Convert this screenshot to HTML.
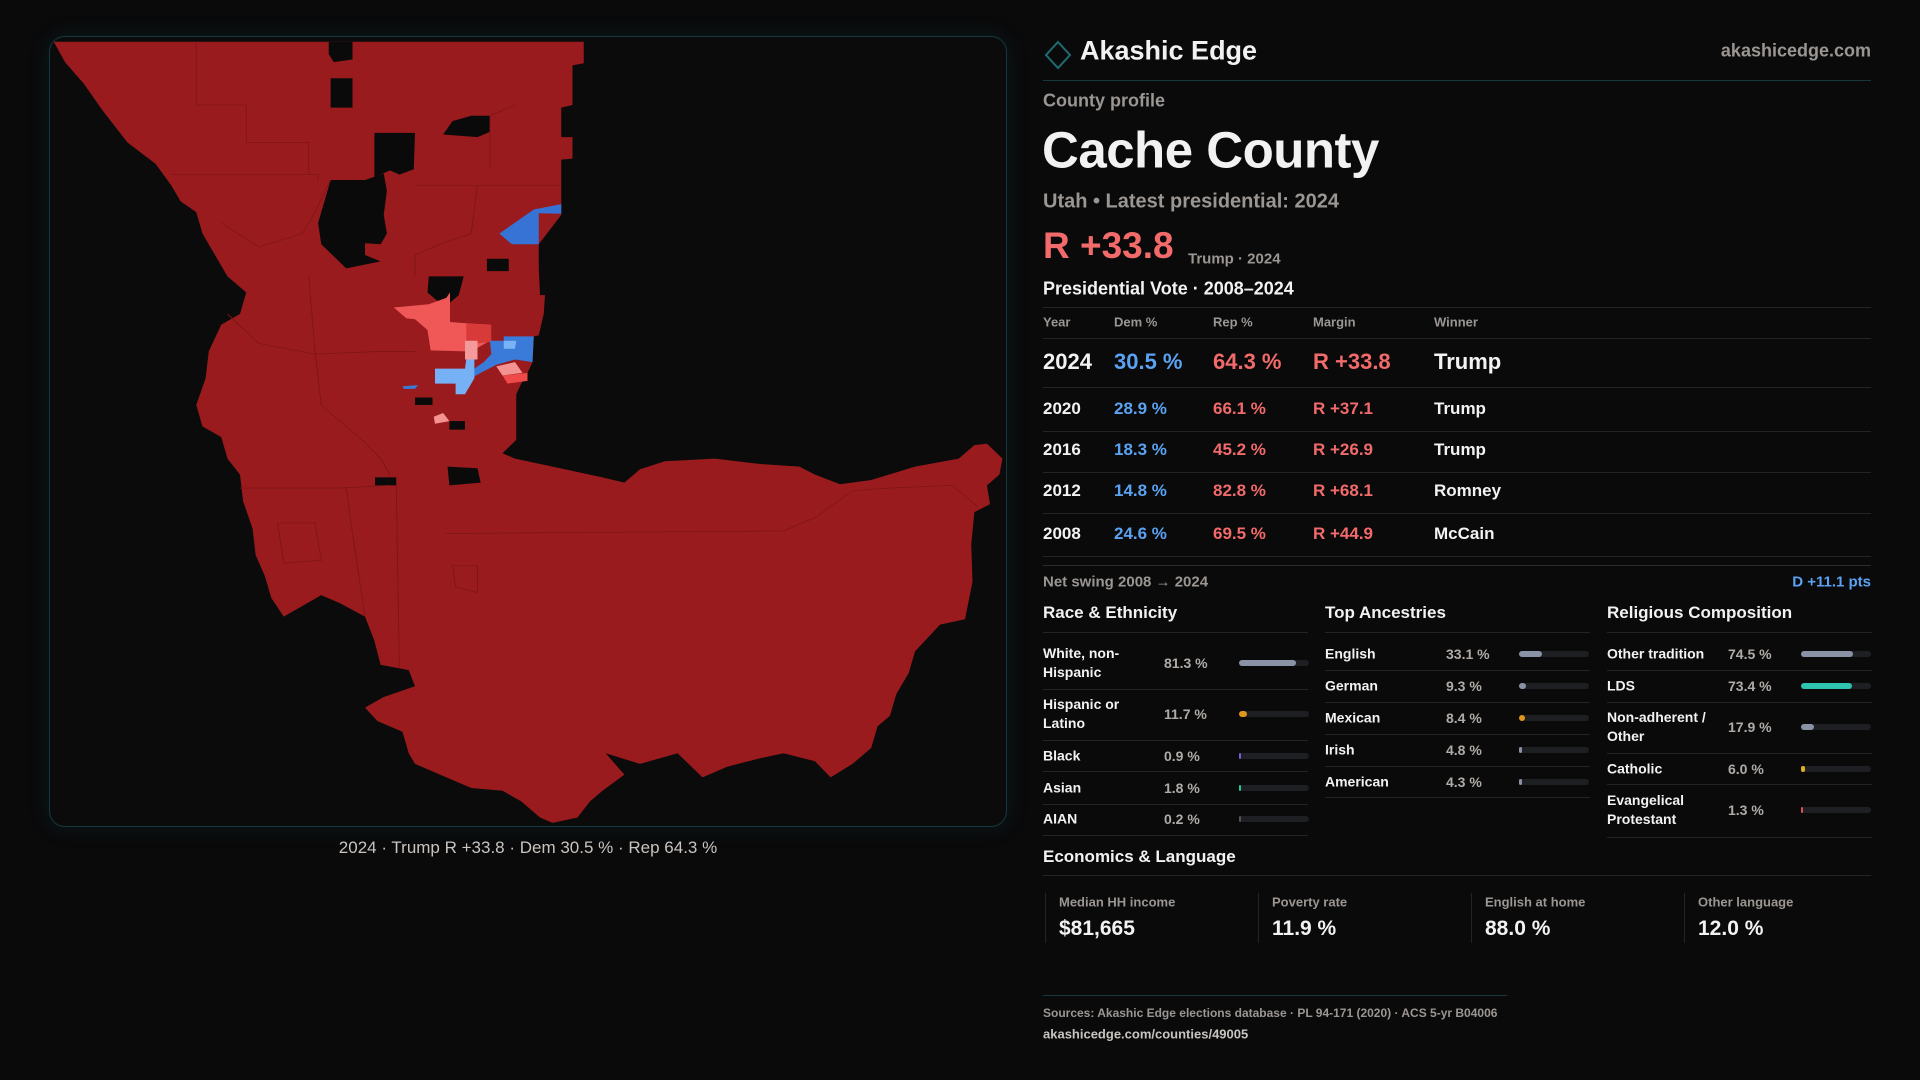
<!DOCTYPE html>
<html><head><meta charset="utf-8">
<style>
*{margin:0;padding:0;box-sizing:border-box}
body{width:1920px;height:1080px;background:#0a0a0b;font-family:"Liberation Sans",sans-serif;color:#f2f2f2;position:relative;overflow:hidden}
.a{position:absolute;white-space:nowrap}
.g{color:#9b9692}
.r{color:#f26a6a}.b{color:#5aa2f2}
.hl{position:absolute;height:1px;background:#232427}
.t{transform:translateY(-50%)}
</style></head><body>
<div class="a" style="left:49px;top:36px;width:958px;height:791px;border:1px solid #16373b;border-radius:16px;background:#0b0b0c;box-shadow:0 0 20px rgba(20,70,80,0.25)"></div>
<svg class="a" style="left:40px;top:30px" width="980" height="840" viewBox="0 0 1568 1568" preserveAspectRatio="none">
<polygon fill="#9a1b1d" points="22,22 870,22 870,62 852,66 852,140 834,145 834,200 852,200 852,240 834,242 834,345 798,400 798,445 800,495 808,495 806,530 798,570 790,572 788,620 780,640 770,660 762,680 762,765 740,790 760,800 820,815 900,835 935,845 960,820 1000,805 1080,800 1150,810 1215,815 1240,830 1280,848 1330,840 1400,815 1470,800 1495,775 1515,772 1540,800 1535,830 1515,850 1520,885 1495,900 1490,960 1492,1030 1480,1100 1440,1110 1400,1160 1390,1200 1370,1240 1360,1280 1340,1300 1330,1340 1300,1370 1265,1395 1240,1365 1190,1350 1150,1360 1100,1375 1060,1395 1020,1350 960,1370 905,1350 935,1390 900,1420 880,1440 860,1470 820,1480 800,1470 770,1440 740,1420 690,1415 640,1390 600,1370 590,1350 580,1310 540,1290 520,1265 550,1245 600,1225 590,1195 545,1185 535,1140 520,1095 480,1070 450,1055 420,1075 390,1095 370,1060 360,1020 345,980 340,930 325,880 320,830 300,800 290,760 260,740 250,700 265,650 270,600 290,550 320,530 330,490 300,460 285,430 260,380 250,340 225,320 210,290 185,250 140,210 100,150 70,100 40,60"/>
<g fill="#0a0a0b">
<polygon points="462,22 500,22 500,55 470,60 462,45"/>
<polygon points="465,90 500,90 500,145 465,145"/>
<polygon points="535,192 600,192 598,260 575,270 560,262 535,275"/>
<polygon points="645,195 660,170 690,160 720,160 720,190 700,200"/>
<polygon points="465,280 520,280 550,268 555,300 550,345 555,380 545,400 520,398 520,420 545,432 490,445 450,400 445,360"/>
<polygon points="622,460 678,460 670,495 655,510 635,505 620,490"/>
<polygon points="715,427 750,427 750,450 715,450"/>
<polygon points="652,815 700,818 705,845 655,850"/>
<polygon points="536,835 570,835 570,850 536,850"/>
<polygon points="600,686 628,686 628,700 600,700"/>
<polygon points="655,730 680,730 680,746 655,746"/>
</g>
<g>
<polygon fill="#3773d4" points="735,380 790,335 834,325 834,343 798,342 798,400 755,400"/>
<polygon fill="#f05858" points="566,518 622,512 650,500 656,490 656,545 690,548 720,550 720,580 690,600 680,600 625,598 620,560 600,540 586,538"/>
<polygon fill="#d83a3a" points="682,548 722,550 722,582 700,585 682,580"/>
<polygon fill="#f59a9a" points="680,580 700,580 700,615 680,615"/>
<polygon fill="#3a7ad8" points="720,580 742,580 742,572 790,572 788,620 760,615 730,625 705,640 690,650 685,640 710,620 722,605"/>
<polygon fill="#7ab4f6" points="742,580 762,580 760,595 742,595"/>
<polygon fill="#f49292" points="730,628 760,620 772,640 740,645"/>
<polygon fill="#ee4a4a" points="740,645 780,640 780,655 748,660"/>
<polygon fill="#76b0f5" points="632,632 680,632 682,615 695,615 695,650 680,680 665,680 665,660 632,660"/>
<polygon fill="#3a7ad8" points="580,665 605,663 600,670 582,670"/>
<polygon fill="#f49292" points="630,722 645,715 655,730 632,735"/>
</g>
<g fill="none" stroke="#7f1517" stroke-width="1.5">
<polyline points="250,22 250,140 330,140 330,210 430,210 430,270 445,270 445,280"/>
<polyline points="210,270 445,270"/>
<polyline points="290,360 350,405 420,380 440,340 465,280"/>
<polyline points="300,530 350,585 440,605 545,600 600,600"/>
<polyline points="430,460 440,600 450,700 520,770 545,800 560,830"/>
<polyline points="320,855 480,855 560,850"/>
<polyline points="570,850 575,1190"/>
<polyline points="490,855 500,940 520,1095"/>
<polyline points="650,940 1190,935 1240,910 1300,860 1360,855 1460,850 1500,890"/>
<polyline points="720,260 720,160 760,140"/>
<polyline points="600,290 830,290"/>
<polyline points="380,920 440,920 450,990 390,995 380,920"/>
<polyline points="660,1000 700,1000 700,1050 665,1040 660,1000"/>
<polyline points="700,290 690,380 640,400 600,420 600,460"/>
</g>
</svg>
<div class="a t" style="left:528px;top:848px;transform:translate(-50%,-50%);font-size:17px;color:#c9c4bf">2024 · Trump R +33.8 · Dem 30.5 % · Rep 64.3 %</div>

<svg class="a" style="left:1044px;top:40px" width="28" height="30"><polygon points="14,2 26,15 14,28 2,15" fill="none" stroke="#1f6c70" stroke-width="2"/></svg>
<div class="a t" style="left:1080px;top:51px;font-size:27px;font-weight:bold">Akashic Edge</div>
<div class="a t" style="right:49px;top:51px;font-size:18px;color:#9b9692;font-weight:bold">akashicedge.com</div>
<div class="hl" style="left:1043px;top:80px;width:828px;background:#17393c"></div>
<div class="a t g" style="left:1043px;top:101px;font-size:18px;font-weight:bold">County profile</div>
<div class="a t" style="left:1042px;top:150px;font-size:51px;font-weight:bold;letter-spacing:-0.5px">Cache County</div>
<div class="a t g" style="left:1043px;top:202px;font-size:20px;font-weight:bold">Utah • Latest presidential: 2024</div>
<div class="a t r" style="left:1043px;top:246px;font-size:37px;font-weight:bold">R +33.8</div>
<div class="a t g" style="left:1188px;top:259px;font-size:15px;font-weight:bold">Trump · 2024</div>
<div class="a t" style="left:1043px;top:289px;font-size:18px;font-weight:bold">Presidential Vote · 2008–2024</div>
<div class="hl" style="left:1043px;top:307px;width:828px"></div>
<div id="tbl"></div>
<div class="hl" style="left:1043px;top:565px;width:828px;background:#2a2b2e"></div>
<div class="a t g" style="left:1043px;top:582px;font-size:15px;font-weight:bold">Net swing 2008 → 2024</div>
<div class="a t b" style="right:49px;top:582px;font-size:15px;font-weight:bold">D +11.1 pts</div>
<div id="sections"></div>
<div class="a t" style="left:1043px;top:857px;font-size:17px;font-weight:bold">Economics &amp; Language</div>
<div class="hl" style="left:1043px;top:875px;width:828px"></div>
<div id="stats"></div>
<div class="hl" style="left:1043px;top:995px;width:464px;background:#17393c"></div>
<div class="a t g" style="left:1043px;top:1013px;font-size:12px;font-weight:bold">Sources: Akashic Edge elections database · PL 94-171 (2020) · ACS 5-yr B04006</div>
<div class="a t" style="left:1043px;top:1034px;font-size:13px;font-weight:bold;color:#c9c4bf">akashicedge.com/counties/49005</div>

<script>
const years=["2024","2020","2016","2012","2008"];
const demPct=[30.5,28.9,18.3,14.8,24.6];
const repPct=[64.3,66.1,45.2,82.8,69.5];
const margins=[33.8,37.1,26.9,68.1,44.9];
const winners=["Trump","Trump","Trump","Romney","McCain"];
const raceLabels=["White, non-<br>Hispanic","Hispanic or<br>Latino","Black","Asian","AIAN"];
const raceValues=[81.3,11.7,0.9,1.8,0.2];
const raceColors=["#8a93a6","#e0961a","#7b5ad6","#1fc79e","#555"];
const ancLabels=["English","German","Mexican","Irish","American"];
const ancValues=[33.1,9.3,8.4,4.8,4.3];
const ancColors=["#8a93a6","#8a93a6","#e0961a","#8a93a6","#8a93a6"];
const relLabels=["Other tradition","LDS","Non-adherent /<br>Other","Catholic","Evangelical<br>Protestant"];
const relValues=[74.5,73.4,17.9,6.0,1.3];
const relColors=["#8a93a6","#2ec4b0","#8a93a6","#e0b020","#e05050"];
const statLabels=["Median HH income","Poverty rate","English at home","Other language"];
const statValues=["$81,665","11.9 %","88.0 %","12.0 %"];

function mk(parent,html,style){const d=document.createElement('div');d.className='a';d.innerHTML=html;d.style.cssText=style;parent.appendChild(d);return d;}
const tbl=document.getElementById('tbl');
const cols=[1043,1114,1213,1313,1434];
const heads=["Year","Dem %","Rep %","Margin","Winner"];
heads.forEach((h,i)=>{const d=mk(tbl,h,`left:${cols[i]}px;top:322px;transform:translateY(-50%);font-size:13px;color:#9b9692;font-weight:bold`);

});
mk(tbl,'','left:1043px;top:338px;width:828px;height:1px;background:#232427');
const rowC=[362,409,450,491,534], rowL=[387,431,472,513,556];
years.forEach((y,i)=>{
 const fs=i===0?22:17;
 const vals=[y,demPct[i].toFixed(1)+' %',repPct[i].toFixed(1)+' %','R +'+margins[i].toFixed(1),winners[i]];
 const colr=['#f2f2f2','#5aa2f2','#f26a6a','#f26a6a','#f2f2f2'];
 vals.forEach((v,j)=>{const d=mk(tbl,v,`left:${cols[j]}px;top:${rowC[i]}px;transform:translateY(-50%);font-size:${fs}px;font-weight:bold;color:${colr[j]}`);
 
 });
 mk(tbl,'',`left:1043px;top:${rowL[i]}px;width:828px;height:1px;background:#232427`);
});
const sec=document.getElementById('sections');
function section(name,title,x,labels,values,colors,centers,lines,valX,barX){
 const t=mk(sec,title,`left:${x}px;top:613px;transform:translateY(-50%);font-size:17px;font-weight:bold`);
 
 
 mk(sec,'',`left:${x}px;top:632px;width:265px;height:1px;background:#232427`);
 labels.forEach((l,i)=>{
  const lb=mk(sec,l,`left:${x}px;top:${centers[i]}px;transform:translateY(-50%);font-size:14px;line-height:19px;font-weight:bold;white-space:nowrap`);
  
  
  const v=mk(sec,values[i].toFixed(1)+' %',`left:${valX}px;top:${centers[i]}px;transform:translateY(-50%);font-size:14px;color:#b0aba6;font-weight:bold`);
  
  
  const tr=mk(sec,'',`left:${barX}px;top:${centers[i]-3}px;width:70px;height:6px;border-radius:3px;background:#1e1f22`);
  
  
  const w=Math.max(2,70*values[i]/100);
  const f=mk(sec,'',`left:${barX}px;top:${centers[i]-3}px;width:${w}px;height:6px;border-radius:3px;background:${colors[i]}`);
  
  
  mk(sec,'',`left:${x}px;top:${lines[i]}px;width:265px;height:1px;background:#232427`);
 });
}
section('race','Race &amp; Ethnicity',1043,raceLabels,raceValues,raceColors,[663,714,756,788,819],[689,740,771,804,835],1164,1239);
section('ancestry','Top Ancestries',1325,ancLabels,ancValues,ancColors,[654,686,718,750,782],[670,702,734,766,797],1446,1519);
section('religion','Religious Composition',1607,relLabels,relValues,relColors,[654,686,727,769,810],[670,702,753,784,837],1728,1801);
const st=document.getElementById('stats');
statLabels.forEach((l,i)=>{
 const x=1045+213*i;
 mk(st,'',`left:${x}px;top:893px;width:1px;height:50px;background:#232427`);
 const a=mk(st,l,`left:${x+14}px;top:902px;transform:translateY(-50%);font-size:13px;color:#9b9692;font-weight:bold`);
 
 
 const v=mk(st,statValues[i],`left:${x+14}px;top:929px;transform:translateY(-50%);font-size:21px;font-weight:bold`);
 
 
});
</script>
</body></html>
